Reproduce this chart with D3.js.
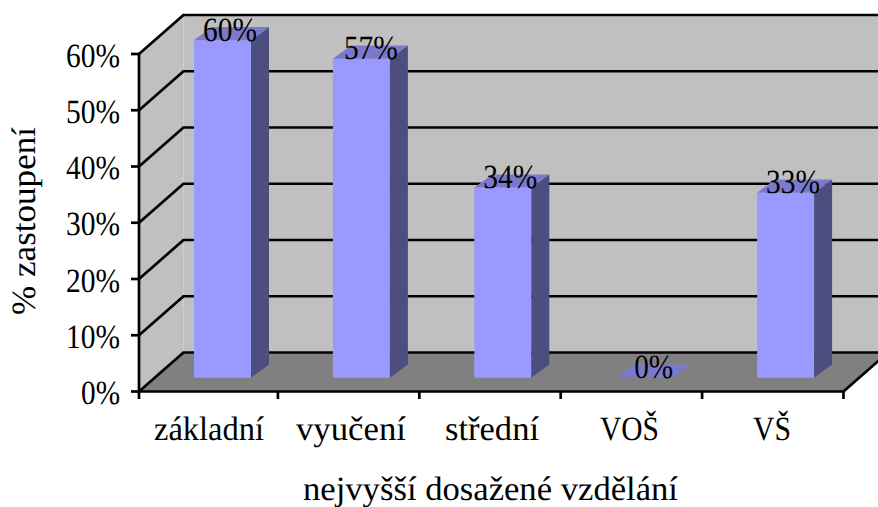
<!DOCTYPE html>
<html><head><meta charset="utf-8">
<script src="https://cdn.jsdelivr.net/npm/d3@7/dist/d3.min.js"></script>
<style>html,body{margin:0;padding:0;background:#fff;overflow:hidden}svg{display:block}text{font-family:"Liberation Serif",serif;fill:#000;text-rendering:geometricPrecision}</style>
</head><body><svg id="c" width="878" height="507"></svg>
<script>
const categories = ["základní","vyučení","střední","VOŠ","VŠ"];
const values = [60,56.7,33.8,0,32.9];
const valueLabels = ["60%","57%","34%","0%","33%"];
const yTicks = [0,10,20,30,40,50,60];
const xTitle = "nejvyšší dosažené vzdělání";
const yTitle = "% zastoupení";

const svg = d3.select("#c");
const W=878;
const L=139,R=843.5,B=391.5,T=54, DX=44.5, DY=39;
const x = d3.scaleBand().domain(categories).range([136.5,R]);
const y = d3.scaleLinear().domain([0,60]).range([B,T]);
const tickX = c => Math.max(x(c),L);
const barW=57, barOffset=55, barLift=13.8, sideX=18, sideY=13.2, FS=34;
const labelWidths=[110,110,94,59,38], labelCenters=[209,351,492,629.5,772], valueLabelShift=[36,38,36,38,36];
const poly=(pts,fill)=>svg.append("polygon").attr("points",pts.map(p=>p.join(",")).join(" ")).attr("fill",fill);
const line=(x1,y1,x2,y2,w=2.7)=>svg.append("line").attr("x1",x1).attr("y1",y1).attr("x2",x2).attr("y2",y2).attr("stroke","#000").attr("stroke-width",w);
const text=(px,py,s,len)=>svg.append("text").attr("x",px).attr("y",py).attr("text-anchor","middle").attr("font-size",FS).attr("textLength",len).attr("lengthAdjust","spacingAndGlyphs").text(s);

// walls
poly([[L,B],[L,T],[L+DX,T-DY],[L+DX,B-DY]],"#C0C0C0");
poly([[L+DX,T-DY],[W,T-DY],[W,B-DY],[L+DX,B-DY]],"#C0C0C0");
poly([[L,B],[L+DX,B-DY],[R+DX,B-DY],[R,B]],"#808080");

// gridlines
yTicks.forEach(t=>{
  const yy=y(t);
  line(L,yy,L+DX,yy-DY);
  line(L+DX-1,yy-DY,W,yy-DY);
  line(L-8,yy,L,yy);
});
line(L,T,L,B);
line(L,B,R,B);
line(R,B,R+DX,B-DY);
// x ticks
categories.forEach(c=>line(tickX(c),B,tickX(c),B+7.5));
line(R,B,R,B+7.5);

// bars
const bx=c=>tickX(c)+barOffset;
categories.forEach((c,i)=>{
  const x0=bx(c), y0=B-barLift, yt=y(values[i])-barLift;
  if(values[i]>0){
    poly([[x0,y0],[x0+barW,y0],[x0+barW,yt],[x0,yt]],"#9999FF");
    poly([[x0+barW,y0],[x0+barW+sideX,y0-sideY],[x0+barW+sideX,yt-sideY],[x0+barW,yt]],"#4D4D80");
  }
  poly([[x0,yt],[x0+barW,yt],[x0+barW+sideX,yt-sideY],[x0+sideX,yt-sideY]],"#7A7ACC");
});

// text
yTicks.forEach(t=>svg.append("text").attr("x",120).attr("y",y(t)+12.5).attr("text-anchor","end").attr("font-size",FS).attr("textLength",t?54:39).attr("lengthAdjust","spacingAndGlyphs").text(t+"%"));
categories.forEach((c,i)=>{
  text(labelCenters[i],440,c,labelWidths[i]);
  text(bx(c)+valueLabelShift[i],y(values[i])-barLift+0.5,valueLabels[i],values[i]?54:39);
});
text(490.5,500,xTitle,375);
svg.append("text").attr("transform","translate(35,221) rotate(-90)").attr("text-anchor","middle").attr("font-size",FS).attr("textLength",188).attr("lengthAdjust","spacingAndGlyphs").text(yTitle);
</script></body></html>
